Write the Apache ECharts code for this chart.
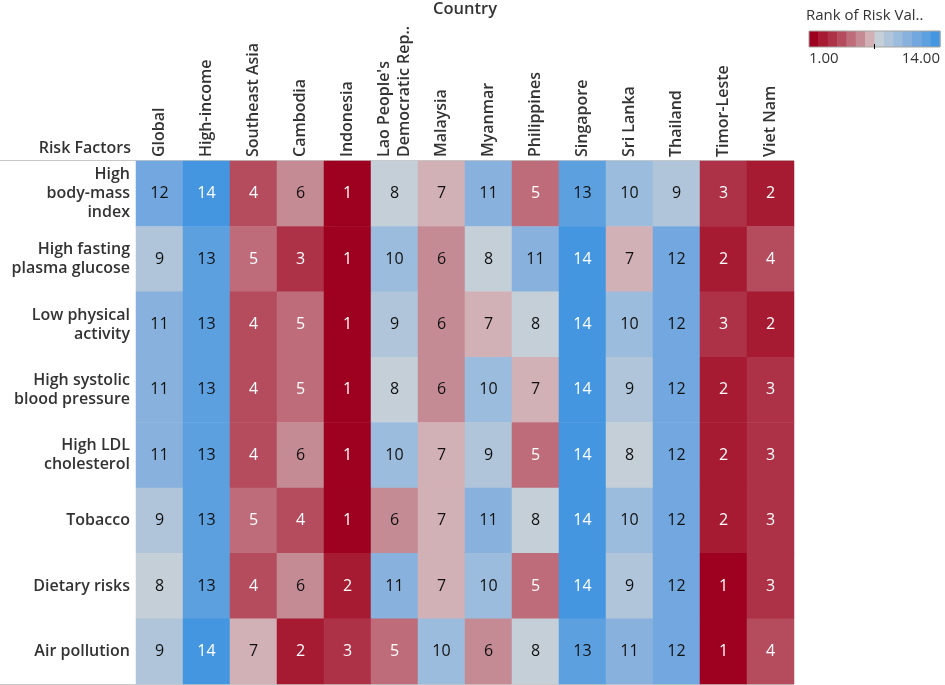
<!DOCTYPE html>
<html><head><meta charset="utf-8">
<script src="https://cdn.jsdelivr.net/npm/echarts@6/dist/echarts.min.js"></script>
<style>html,body{margin:0;padding:0;background:#fff}#c{width:945px;height:685px}</style>
</head><body><div id="c"></div>
<script>
var countries = ["Global","High-income","Southeast Asia","Cambodia","Indonesia","Lao People's\nDemocratic Rep..","Malaysia","Myanmar","Philippines","Singapore","Sri Lanka","Thailand","Timor-Leste","Viet Nam"];
var riskFactors = ["High\nbody-mass\nindex","High fasting\nplasma glucose","Low physical\nactivity","High systolic\nblood pressure","High LDL\ncholesterol","Tobacco","Dietary risks","Air pollution"];
var highBMI      = [12,14,4,6,1,8,7,11,5,13,10,9,3,2];
var highGlucose  = [9,13,5,3,1,10,6,8,11,14,7,12,2,4];
var lowActivity  = [11,13,4,5,1,9,6,7,8,14,10,12,3,2];
var highBP       = [11,13,4,5,1,8,6,10,7,14,9,12,2,3];
var highLDL      = [11,13,4,6,1,10,7,9,5,14,8,12,2,3];
var tobacco      = [9,13,5,4,1,6,7,11,8,14,10,12,2,3];
var dietary      = [8,13,4,6,2,11,7,10,5,14,9,12,1,3];
var airPollution = [9,14,7,2,3,5,10,6,8,13,11,12,1,4];
var rows = [highBMI,highGlucose,lowActivity,highBP,highLDL,tobacco,dietary,airPollution];
var legendTitle = "Rank of Risk Val..";
var legendMin = "1.00", legendMax = "14.00";

var palette = ["#9E001F","#A61B32","#AE3247","#B54C5E","#BE6C79","#C58B95","#D2B1B6","#C5CFD8","#B0C5DA","#9BBCDC","#88B2DD","#72A8DF","#5CA0E0","#4596E0"];

var data = [];
rows.forEach(function(r, yi){
  r.forEach(function(v, xi){
    data.push({value:[xi, yi, v], label:{color:(v<=5||v===14)?'#ffffff':'#111111'}});
  });
});

var chart = echarts.init(document.getElementById('c'));
var labelFont = 'Open Sans';
var graphics = [];
graphics.push({type:'text', style:{x:465, y:1, text:'Country', textAlign:'center', fontSize:16.5, fontWeight:600, fontFamily:labelFont, fill:'#333'}});
graphics.push({type:'text', style:{x:131, y:140, text:'Risk Factors', textAlign:'right', fontSize:16, fontWeight:600, fontFamily:labelFont, fill:'#333'}});
graphics.push({type:'line', shape:{x1:0,y1:160.5,x2:794,y2:160.5}, style:{stroke:'#c8c8c8', lineWidth:1}});
graphics.push({type:'line', shape:{x1:0,y1:684.5,x2:794,y2:684.5}, style:{stroke:'#c8c8c8', lineWidth:1}});
// legend
var lx = 809, ly = 31, lw = 131, lh = 16, sw = lw/palette.length;
palette.forEach(function(c, i){
  graphics.push({type:'rect', shape:{x:lx+i*sw, y:ly, width:sw+0.5, height:lh}, style:{fill:c}});
});
graphics.push({type:'rect', shape:{x:lx, y:ly, width:lw, height:lh}, style:{fill:'none', stroke:'#a5a5a0', lineWidth:1}});
graphics.push({type:'line', shape:{x1:lx+lw/2, y1:ly+lh-3, x2:lx+lw/2, y2:ly+lh+2}, style:{stroke:'#000', lineWidth:1}});
graphics.push({type:'text', style:{x:806, y:8, text:legendTitle, fontSize:15, fontFamily:'Open Sans', fill:'#333'}});
graphics.push({type:'text', style:{x:809, y:51, text:legendMin, fontSize:15, fontFamily:'Open Sans', fill:'#333'}});
graphics.push({type:'text', style:{x:940, y:51, text:legendMax, textAlign:'right', fontSize:15, fontFamily:'Open Sans', fill:'#333'}});

chart.setOption({
  animation:false,
  grid:{left:136, right:151, top:161, bottom:1},
  xAxis:{type:'category', position:'top', data:countries,
    axisLine:{show:false}, axisTick:{show:false}, splitLine:{show:false},
    axisLabel:{rotate:-90, margin:4, fontSize:16, fontWeight:600, fontFamily:labelFont, color:'#333', lineHeight:20, interval:0}},
  yAxis:{type:'category', inverse:true, data:riskFactors,
    axisLine:{show:false}, axisTick:{show:false}, splitLine:{show:false},
    axisLabel:{margin:6, fontSize:16, fontWeight:600, fontFamily:labelFont, color:'#333', lineHeight:19, align:'right', interval:0}},
  visualMap:{show:false, type:'piecewise', dimension:2,
    pieces: palette.map(function(c,i){return {value:i+1, color:c};})},
  graphic: graphics,
  series:[{type:'heatmap', data:data,
    itemStyle:{borderWidth:0},
    label:{show:true, fontSize:16, fontFamily:'Open Sans'},
    emphasis:{disabled:true}}]
});
</script></body></html>
